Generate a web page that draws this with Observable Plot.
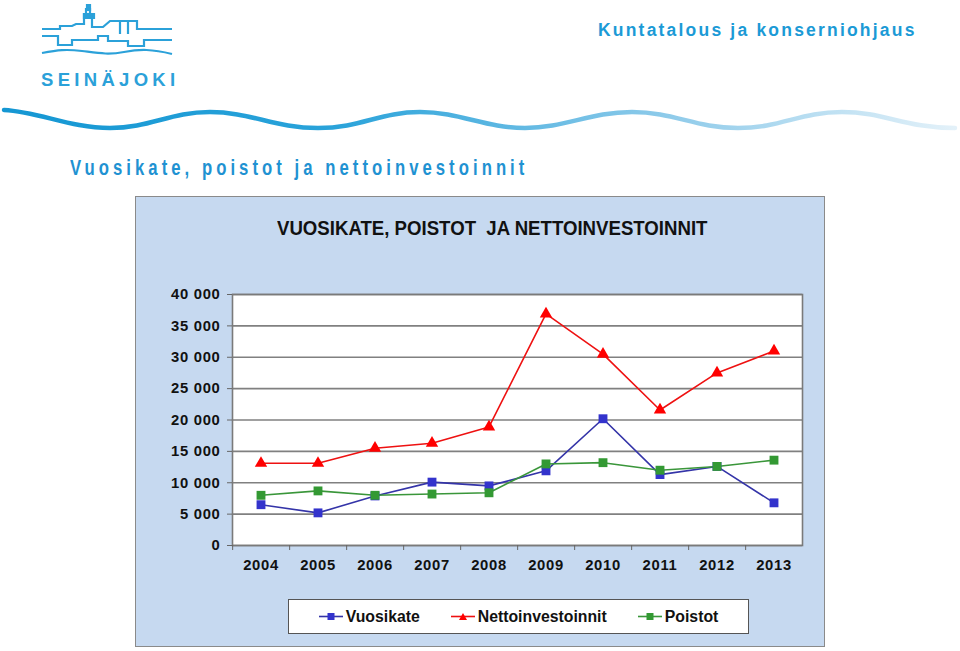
<!DOCTYPE html>
<html>
<head>
<meta charset="utf-8">
<script src="https://cdn.jsdelivr.net/npm/d3@7"></script>
<script src="https://cdn.jsdelivr.net/npm/@observablehq/plot@0.6"></script>
<style>
  html, body { margin: 0; padding: 0; background: #ffffff; }
  body { width: 960px; height: 651px; position: relative; overflow: hidden; font-family: "Liberation Sans", Arial, sans-serif; }
  .abs { position: absolute; }
  #header-right { left: 598px; top: 20px; font-size: 17.5px; font-weight: bold; letter-spacing: 2.2px; color: #1b9ad6; white-space: nowrap; }
  #page-title { left: 70px; top: 155px; font-size: 22px; font-weight: bold; letter-spacing: 5.3px; color: #1f92d2; white-space: nowrap; transform: scaleX(0.76); transform-origin: 0 0; }
  #chart-box { left: 135px; top: 196px; width: 690px; height: 451px; }
  #chart-box svg { display: block; }
  #chart-box svg text { letter-spacing: 0.7px; }
  #chart-outline { left: 135px; top: 196px; width: 688px; height: 449px; border: 1.5px solid #8a8a8a; pointer-events: none; }
  #chart-title { left: 277px; top: 217px; font-size: 19.5px; font-weight: bold; color: #111; white-space: pre; transform: scaleX(0.955); transform-origin: 0 0; }
  #legend { left: 288px; top: 599px; width: 459px; height: 33px; background: #fff; border: 1.5px solid #555; display: flex; align-items: center; justify-content: center; gap: 31px; font-size: 15.8px; font-weight: bold; color: #111; }
  #legend .item { display: flex; align-items: center; gap: 3px; }
</style>
</head>
<body>
<script>
// ---- Data ----
const years = ["2004","2005","2006","2007","2008","2009","2010","2011","2012","2013"];
const vuosikate = [6500, 5200, 7900, 10100, 9500, 11900, 20200, 11300, 12600, 6800];
const nettoinvestoinnit = [13100, 13100, 15500, 16300, 18900, 36900, 30500, 21600, 27500, 31000];
const poistot = [8000, 8700, 8000, 8200, 8400, 13000, 13200, 12000, 12600, 13600];
const yTicks = [0, 5000, 10000, 15000, 20000, 25000, 30000, 35000, 40000];
const seriesNames = ["Vuosikate", "Nettoinvestoinnit", "Poistot"];
const seriesColors = {Vuosikate: "#3434a8", Nettoinvestoinnit: "#ee1111", Poistot: "#3a963a"};
const markerColors = {Vuosikate: "#3333cc", Nettoinvestoinnit: "#ff0000", Poistot: "#339933"};
const markerSymbols = {Vuosikate: "square", Nettoinvestoinnit: "triangle", Poistot: "square"};

const seriesValues = {Vuosikate: vuosikate, Nettoinvestoinnit: nettoinvestoinnit, Poistot: poistot};
const rows = seriesNames.flatMap(s => years.map((year, i) => ({series: s, year, value: seriesValues[s][i]})));

const fiFormat = d3.formatLocale({decimal: ",", thousands: " ", grouping: [3], currency: ["", ""]}).format(",");

// ---- Decorations (header) ----
const header = `
<svg class="abs" style="left:0;top:0" width="960" height="140" xmlns="http://www.w3.org/2000/svg">
  <defs>
    <linearGradient id="wg" x1="0" x2="1" y1="0" y2="0">
      <stop offset="0" stop-color="#1597d3"/>
      <stop offset="0.35" stop-color="#2aa3da"/>
      <stop offset="0.7" stop-color="#8fcbea"/>
      <stop offset="1" stop-color="#e3f1f9"/>
    </linearGradient>
  </defs>
  <g fill="none" stroke="#2ba1d9" stroke-width="2.2" stroke-linejoin="miter">
    <path d="M42,29 H60 V26 H72 L76,24 H84 V14 H86 V9 H90 V14 H92 V27 H103 L110,21 H137 V29 H172"/>
    <path d="M84,14 H94 V18 H84 Z" fill="#2ba1d9"/>
    <path d="M87,5 h3 v5 h-3 Z" fill="#2ba1d9"/>
    <path d="M120,21 V34 M128,21 V34"/>
    <path d="M42,36 H58 V45 H72 V40 H98 V36 H108 V41 H128 V46 H144 V40 H172"/>
    <path d="M42,53 C58,50 66,49 82,51 S108,55 124,52 S152,49 172,54"/>
  </g>
  <text x="41" y="86" font-family="Liberation Sans, Arial, sans-serif" font-weight="bold" font-size="18.5" letter-spacing="4.3" fill="#2ba1d9">SEINÄJOKI</text>
  <path d="M4,110 C40,112 70,128 110,128 S170,112 210,112 S275,128 318,128 S380,112 420,112 S485,128 525,128 S590,112 632,112 S695,128 738,128 S800,112 842,112 S905,128 955,128"
        fill="none" stroke="url(#wg)" stroke-width="4.5" stroke-linecap="round"/>
</svg>`;
document.body.insertAdjacentHTML("beforeend", header);

const hr = document.createElement("div");
hr.className = "abs"; hr.id = "header-right"; hr.textContent = "Kuntatalous ja konserniohjaus";
document.body.appendChild(hr);

const pt = document.createElement("div");
pt.className = "abs"; pt.id = "page-title"; pt.textContent = "Vuosikate, poistot ja nettoinvestoinnit";
document.body.appendChild(pt);

// ---- Chart ----
const box = document.createElement("div");
box.className = "abs"; box.id = "chart-box";
document.body.appendChild(box);

const font = {fontSize: 14.8, fontWeight: "bold", fill: "#111"};

const marks = [
  Plot.frame({fill: "#ffffff", stroke: null}),
  Plot.gridY(yTicks, {stroke: "#808080", strokeOpacity: 1, strokeWidth: 1.6}),
  Plot.frame({stroke: "#7a7a7a", strokeWidth: 1.6}),
  Plot.axisY(yTicks, {tickFormat: fiFormat, tickSize: 5, tickPadding: 7, stroke: "#666", ...font}),
  Plot.axisX(years, {tickSize: 5, tickFormat: () => "", dx: -28.35, stroke: "#666"}),
  Plot.axisX(years, {tickSize: 0, tickPadding: 14, ...font}),
];
for (const s of seriesNames) {
  const data = rows.filter(d => d.series === s);
  marks.push(Plot.line(data, {x: "year", y: "value", stroke: seriesColors[s], strokeWidth: 1.6}));
}
for (const s of seriesNames) {
  const data = rows.filter(d => d.series === s);
  marks.push(Plot.dot(data, {x: "year", y: "value", symbol: markerSymbols[s], fill: markerColors[s], stroke: null, r: markerSymbols[s] === "triangle" ? 4.6 : 5}));
}

const chart = Plot.plot({
  width: 690,
  height: 451,
  marginLeft: 97,
  marginRight: 23,
  marginTop: 98,
  marginBottom: 102,
  style: {background: "#c6d9f0", fontFamily: "Liberation Sans, Arial, sans-serif", overflow: "visible"},
  x: {type: "band", domain: years, padding: 0, round: false, label: null, axis: null},
  y: {domain: [0, 40000], label: null, axis: null},
  marks
});
box.appendChild(chart);

const outline = document.createElement("div");
outline.className = "abs"; outline.id = "chart-outline";
document.body.appendChild(outline);

const ct = document.createElement("div");
ct.className = "abs"; ct.id = "chart-title"; ct.textContent = "VUOSIKATE, POISTOT  JA NETTOINVESTOINNIT";
document.body.appendChild(ct);

// ---- Legend ----
const legend = document.createElement("div");
legend.className = "abs"; legend.id = "legend";
for (const s of seriesNames) {
  const item = document.createElement("div");
  item.className = "item";
  const sym = markerSymbols[s] === "triangle"
    ? `<path d="M12,3 L16,10 L8,10 Z" fill="${markerColors[s]}"/>`
    : `<rect x="8.5" y="3" width="7" height="7" fill="${markerColors[s]}"/>`;
  item.innerHTML = `<svg width="24" height="13"><line x1="0" x2="24" y1="6.5" y2="6.5" stroke="${seriesColors[s]}" stroke-width="1.6"/>${sym}</svg><span>${s}</span>`;
  legend.appendChild(item);
}
document.body.appendChild(legend);
</script>
</body>
</html>
